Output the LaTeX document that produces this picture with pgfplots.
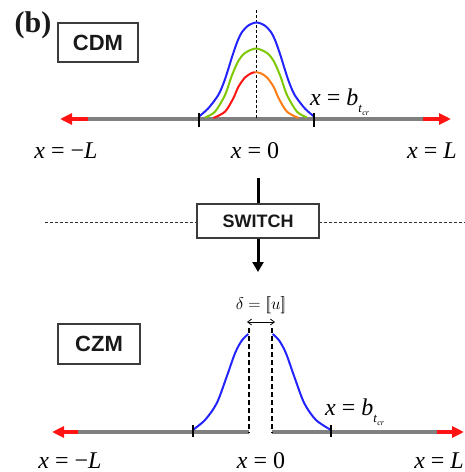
\documentclass[border=0pt]{standalone}
\usepackage{fix-cm}
\usepackage{pgfplots}
\pgfplotsset{compat=1.18}
\usetikzlibrary{arrows.meta}
\usepackage{fontspec}
\setmainfont{Liberation Serif}
\setsansfont{Liberation Sans}
\definecolor{cgray}{RGB}{128,128,128}
\definecolor{cred}{RGB}{255,20,20}
\definecolor{cblue}{RGB}{35,35,255}
\definecolor{cgreen}{RGB}{125,200,0}
\definecolor{corange}{RGB}{255,125,20}
\definecolor{cbox}{RGB}{60,60,60}
\newcommand{\lab}{\fontsize{24}{28}\selectfont}
\newcommand{\bsub}{\textit{b}\raisebox{-0.32em}{\fontsize{13}{15}\selectfont\textit{t}\raisebox{-0.22em}{\fontsize{8}{9}\selectfont\textit{cr}}}}
\begin{document}
\begin{tikzpicture}
\begin{axis}[at={(0,0)},anchor=south west,width=465pt,height=472pt,scale only axis,
  xmin=0,xmax=465,ymin=0,ymax=472,y dir=reverse,axis lines=none,clip=false]
% ---------- top panel (CDM) ----------
\addplot[cgray,line width=4pt] coordinates {(86,119) (425,119)};
\addplot[cred,line width=4pt,-{Triangle[length=12pt,width=11pt]}] coordinates {(88,119) (60,119)};
\addplot[cred,line width=4pt,-{Triangle[length=12pt,width=11pt]}] coordinates {(423,119) (451,119)};
\addplot[black,line width=0.9pt,dash pattern=on 3pt off 2pt] coordinates {(256,10) (256,119)};
\addplot[cblue,line width=2pt,smooth] coordinates {(199,116.5) (208.3,108.3) (218.3,95) (224,82) (228.3,69) (232,57) (235,48) (238,40) (241.7,32.5) (248.3,25.5) (256.5,22.5) (264.7,25.5) (271.3,32.5) (275,40) (278,48) (281,57) (284.7,69) (289,82) (294.7,95) (304.7,108.3) (314,116.5)};
\addplot[cgreen,line width=2pt,smooth] coordinates {(205,117.5) (215,111.7) (225,95) (231.7,76) (238.3,61) (245,53) (256,48.5) (267,53) (273.7,61) (280.3,76) (287,95) (297,111.7) (307,117.5)};
\addplot[cred,line width=2pt,smooth] coordinates {(213.3,118) (225,111.7) (233.3,98.3) (238.3,87) (245,77.5) (251.7,73) (255,72.3)};
\addplot[corange,line width=2pt,smooth] coordinates {(255,72.3) (260.3,73) (267,77.5) (273.7,87) (278.7,98.3) (287,111.7) (298.7,118)};
\addplot[black,line width=2pt] coordinates {(199,113) (199,127)};
\addplot[black,line width=2pt] coordinates {(314,113) (314,127)};
\draw[cbox,line width=1.3pt] (axis cs:58,23) rectangle (axis cs:138,62);
\node[text=black!90] at (axis cs:98,42.5) {\fontsize{22}{26}\selectfont\sffamily\bfseries CDM};
\node[text=black!90] at (axis cs:33,25) {\fontsize{30}{34}\selectfont\bfseries (b)};
\node[anchor=base] at (axis cs:66,158) {\lab\textit{x} = −\textit{L}};
\node[anchor=base] at (axis cs:255,158) {\lab\textit{x} = 0};
\node[anchor=base] at (axis cs:432,158) {\lab\textit{x} = \textit{L}};
\node[anchor=base west,inner sep=0pt] at (axis cs:310,105) {\lab\textit{x} = \bsub};
% ---------- middle (switch) ----------
\addplot[black!80,line width=1pt,dash pattern=on 3.3pt off 1.7pt] coordinates {(45,222) (197,222)};
\addplot[black!80,line width=1pt,dash pattern=on 3.3pt off 1.7pt] coordinates {(319,222) (465,222)};
\addplot[black,line width=3pt] coordinates {(258,178) (258,204)};
\addplot[black,line width=3pt,-{Triangle[length=10pt,width=11pt]}] coordinates {(258,238) (258,272)};
\draw[cbox,line width=1.3pt,fill=white] (axis cs:197,204) rectangle (axis cs:319,238);
\node[text=black!90] at (axis cs:258,221) {\fontsize{18}{22}\selectfont\sffamily\bfseries SWITCH};
% ---------- bottom panel (CZM) ----------
\addplot[cgray,line width=4pt] coordinates {(76,432) (249,432)};
\addplot[cgray,line width=4pt] coordinates {(272,432) (439,432)};
\addplot[cred,line width=4pt,-{Triangle[length=12pt,width=11pt]}] coordinates {(78,432) (52,432)};
\addplot[cred,line width=4pt,-{Triangle[length=12pt,width=11pt]}] coordinates {(437,432) (464,432)};
\addplot[black,line width=2.2pt,dash pattern=on 5pt off 3pt] coordinates {(249,328) (249,433)};
\addplot[black,line width=2.2pt,dash pattern=on 5pt off 3pt] coordinates {(272,328) (272,433)};
\addplot[cblue,line width=2pt,smooth] coordinates {(192.7,430) (205,420) (216.7,403.3) (226.7,376.7) (235,353.3) (241.7,340.7) (248.3,334)};
\addplot[cblue,line width=2pt,smooth] coordinates {(272.7,334) (279.3,340.7) (286,353.3) (294.3,376.7) (304.3,403.3) (316,420) (331,430)};
\addplot[black,line width=2pt] coordinates {(192.5,425) (192.5,437)};
\addplot[black,line width=2pt] coordinates {(331,425) (331,437)};
\addplot[black,line width=0.8pt,{Straight Barb[length=4pt,width=6pt]}-{Straight Barb[length=4pt,width=6pt]}] coordinates {(247,322) (275,322)};
\node at (axis cs:261,305) {\fontsize{17}{20}\selectfont $\delta=[\![u]\!]$};
\draw[cbox,line width=1.3pt] (axis cs:58,324) rectangle (axis cs:140,364);
\node[text=black!90] at (axis cs:99,344) {\fontsize{22}{26}\selectfont\sffamily\bfseries CZM};
\node[anchor=base] at (axis cs:70,468) {\lab\textit{x} = −\textit{L}};
\node[anchor=base] at (axis cs:261,468) {\lab\textit{x} = 0};
\node[anchor=base east,inner xsep=1pt] at (axis cs:465,468) {\lab\textit{x} = \textit{L}};
\node[anchor=base west,inner sep=0pt] at (axis cs:325,415) {\lab\textit{x} = \bsub};
\end{axis}
\pgfresetboundingbox
\useasboundingbox (0,0) rectangle (465pt,472pt);
\end{tikzpicture}
\end{document}
